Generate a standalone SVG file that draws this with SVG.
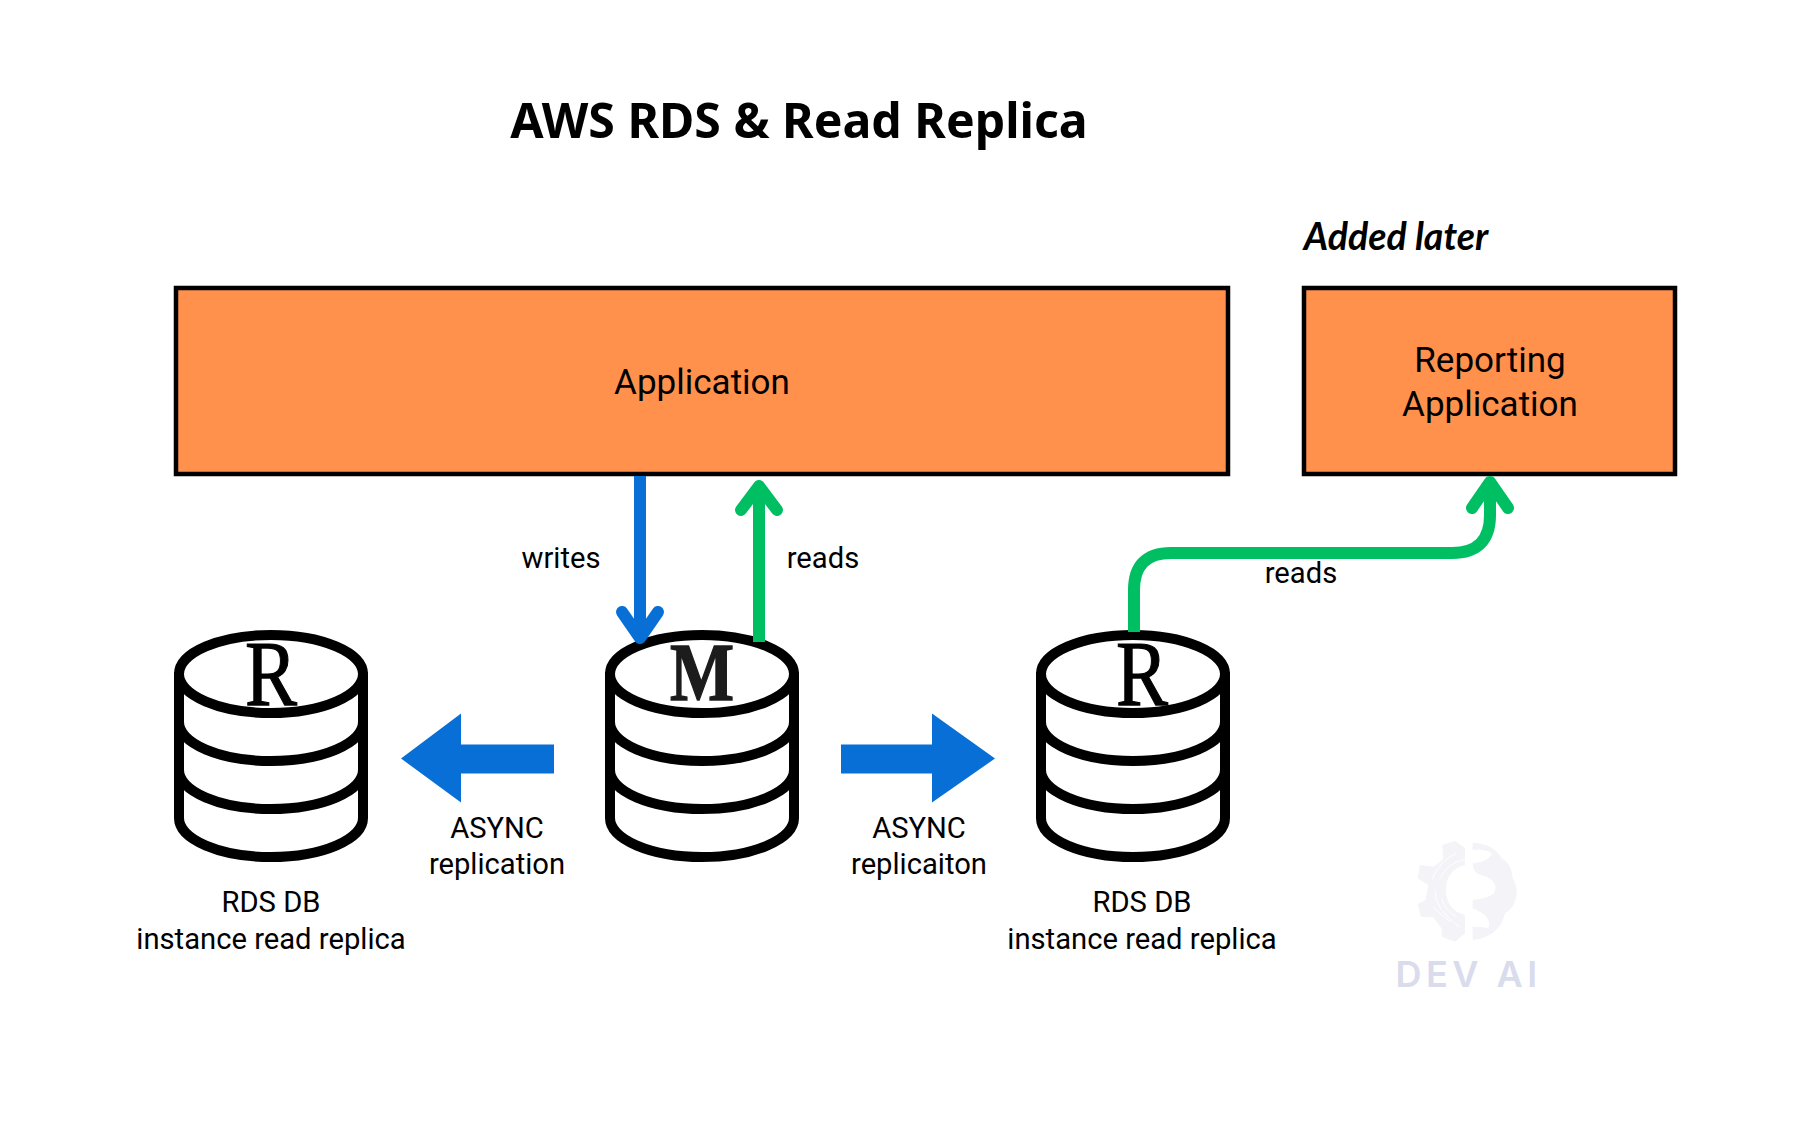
<svg xmlns="http://www.w3.org/2000/svg" xmlns:xlink="http://www.w3.org/1999/xlink" width="1818" height="1131" viewBox="0 0 1818 1131">
<style>
text{font-family:"Roboto","Liberation Sans",sans-serif;fill:#000;text-anchor:middle}
.lb{font-size:29.2px}
.big{font-size:35px}
.box{fill:#ff914d;stroke:#000;stroke-width:4.5}
.cyl{fill:#fff;stroke:#000;stroke-width:10;stroke-linecap:round}
.ln{fill:none;stroke-width:12;stroke-linecap:round;stroke-linejoin:round}
.sh{fill:none;stroke-width:12}
.letter{font-family:"Liberation Serif",serif}
</style>
<defs>
<g id="cyl">
<path class="cyl" d="M-92 0V144A92 39 0 0 0 92 144V0"/>
<path class="cyl" style="fill:none" d="M-92 48A92 39 0 0 0 92 48M-92 96A92 39 0 0 0 92 96"/>
<ellipse class="cyl" cx="0" cy="0" rx="92" ry="39"/>
</g>
</defs>
<rect width="1818" height="1131" fill="#fff"/>
<text id="title" x="799" y="137.500" style="font-family:'Noto Sans',sans-serif;font-weight:700;font-size:48.2px">AWS RDS &amp; Read Replica</text>
<text id="note" x="1396" y="250" style="font-family:'Lato',sans-serif;font-weight:700;font-style:italic;font-size:37.500px">Added later</text>
<g id="app"><rect class="box" x="176" y="288" width="1052" height="186"/><text class="big" x="702" y="394">Application</text></g>
<g id="reporting"><rect class="box" x="1304" y="288" width="371" height="186"/><text class="big" x="1490" y="372">Reporting</text><text class="big" x="1490" y="416">Application</text></g>
<g id="replica-left"><use xlink:href="#cyl" href="#cyl" x="271" y="674"/><text class="letter" x="271" y="705" font-size="94" textLength="52" lengthAdjust="spacingAndGlyphs" stroke="#000" stroke-width="1.2">R</text><text class="lb" x="271" y="912">RDS DB</text><text class="lb" x="271" y="949">instance read replica</text></g>
<g id="master"><use xlink:href="#cyl" href="#cyl" x="702" y="674"/><text class="letter" x="702" y="700" font-size="82" font-weight="700" textLength="64" lengthAdjust="spacingAndGlyphs" stroke="#1c1c1c" stroke-width="1.5" style="fill:#1c1c1c">M</text></g>
<g id="replica-right"><use xlink:href="#cyl" href="#cyl" x="1133" y="674"/><text class="letter" x="1142" y="705" font-size="94" textLength="52" lengthAdjust="spacingAndGlyphs" stroke="#000" stroke-width="1.2">R</text><text class="lb" x="1142" y="912">RDS DB</text><text class="lb" x="1142" y="949">instance read replica</text></g>
<g id="connectors">
<path class="sh" stroke="#076fd5" d="M640 476V636"/>
<path class="ln" stroke="#076fd5" d="M622 612L640 638L658 612"/>
<path class="sh" stroke="#00bf63" d="M759 642V488"/>
<path class="ln" stroke="#00bf63" d="M741 510L759 486L777 510"/>
<path class="sh" stroke="#00bf63" d="M1134 632V590Q1134 553 1171 553H1452Q1490 553 1490 515V486"/>
<path class="ln" stroke="#00bf63" d="M1472 508L1490 482L1508 508"/>
<path fill="#076fd5" d="M401 758.500L461 713.500V744.500H554V773.500H461V802.500Z"/>
<path fill="#076fd5" d="M995 758.500L932 713.500V744.500H841V773.500H932V802.500Z"/>
</g>
<g id="labels">
<text class="lb" x="561" y="568">writes</text>
<text class="lb" x="823" y="568">reads</text>
<text class="lb" x="1301" y="583">reads</text>
<text class="lb" x="497" y="838">ASYNC</text><text class="lb" x="497" y="874">replication</text>
<text class="lb" x="919" y="838">ASYNC</text><text class="lb" x="919" y="874">replicaiton</text>
</g>
<g id="logo" transform="translate(1360 820) scale(.3333)">
<path fill="#f3f3f8" d="M315 85L285 62L247 75L250 118L222 140L180 135L173 175L205 195L197 240L173 252L183 290L220 292L245 325L245 350L285 365L315 340V285Q258 270 258 210Q258 150 315 135Z"/>
<path fill="#f3f3f8" d="M338 68Q400 70 425 115Q455 130 458 175Q472 195 470 225Q465 262 435 280L425 310Q395 355 338 360V320Q370 320 385 325Q400 290 338 265V240Q380 235 400 222Q420 190 380 170Q338 165 338 130Q390 125 395 100Q375 85 338 90Z"/>
<path fill="none" stroke="#fff" stroke-width="3" d="M215 180Q240 120 290 100M240 175Q260 130 315 118M225 212Q225 270 300 322M245 235Q255 275 290 290M220 262L270 305"/>
<text x="326" y="500" style="font-family:'Inter',sans-serif;font-weight:600;font-size:108px;letter-spacing:13.500px;fill:#d9dcec">DEV AI</text>
</g>
</svg>
